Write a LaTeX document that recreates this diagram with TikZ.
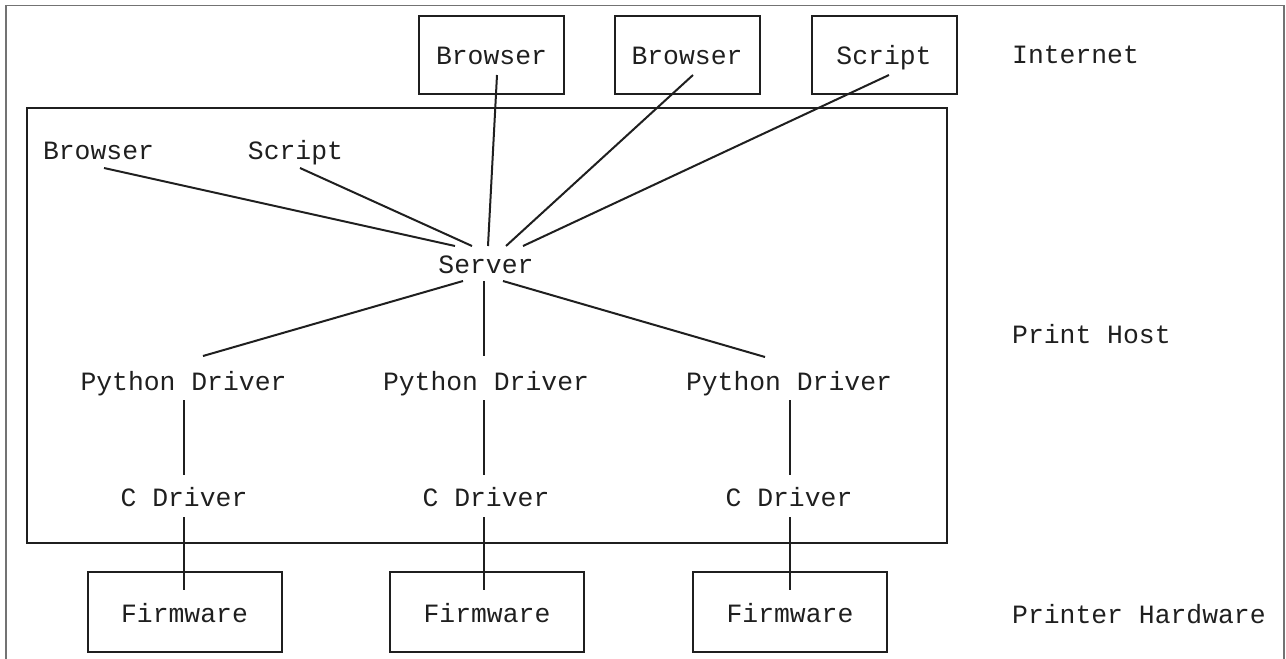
\documentclass[tikz,border=0pt]{standalone}
\usepackage{fontspec}
\setmainfont{Liberation Mono}
\begin{document}
\begin{tikzpicture}[x=1pt,y=-1pt,
  lbl/.style={anchor=base, inner sep=0pt, font=\fontsize{26.4}{30}\selectfont, text=black!88},
  sidelbl/.style={lbl, anchor=base west},
  boxed/.style={draw=black!88, line width=2pt, inner sep=0pt},
  topbox/.style={boxed, minimum width=145pt, minimum height=78pt},
  fwbox/.style={boxed, minimum width=194pt, minimum height=80pt},
  conn/.style={draw=black!88, line width=2pt},
  frame/.style={draw=black!55, line width=1.6pt}]
\useasboundingbox (0,0) rectangle (1286,659);
\draw[frame] (6,659) -- (6,5.5) -- (1284,5.5) -- (1284,659);

% boxes
\node[boxed, minimum width=920pt, minimum height=435pt] (host) at (487,325.5) {};
\node[topbox] (bx1) at (491.5,55) {};
\node[topbox] (bx2) at (687,55) {};
\node[topbox] (bx3) at (884,55) {};
\node[fwbox] (fb1) at (184.5,612) {};
\node[fwbox] (fb2) at (487,612) {};
\node[fwbox] (fb3) at (790,612) {};

% texts
\node[lbl] (ib1) at (491.5,64) {Browser};
\node[lbl] (ib2) at (687,64) {Browser};
\node[lbl] (isc) at (884,64) {Script};
\node[lbl] (hb) at (98.5,159) {Browser};
\node[lbl] (hs) at (295.5,159) {Script};
\node[lbl] (srv) at (486,273) {Server};
\node[lbl] (py1) at (183.5,390) {Python Driver};
\node[lbl] (py2) at (486,390) {Python Driver};
\node[lbl] (py3) at (789,390) {Python Driver};
\node[lbl] (c1) at (184,506) {C Driver};
\node[lbl] (c2) at (486,506) {C Driver};
\node[lbl] (c3) at (789,506) {C Driver};
\node[lbl] (fw1) at (184.5,622) {Firmware};
\node[lbl] (fw2) at (487,622) {Firmware};
\node[lbl] (fw3) at (790,622) {Firmware};
\node[sidelbl] (net) at (1012,63) {Internet};
\node[sidelbl] (ph) at (1012,343) {Print Host};
\node[sidelbl] (hw) at (1012,623) {Printer Hardware};

% connectors
\draw[conn] ([shift={(5.5,9)}]hb.base) -- ([shift={(-31,-27)}]srv.base);
\draw[conn] ([shift={(4.5,9)}]hs.base) -- ([shift={(-14,-27)}]srv.base);
\draw[conn] ([shift={(5.5,11)}]ib1.base) -- ([shift={(2,-27)}]srv.base);
\draw[conn] ([shift={(6,11)}]ib2.base) -- ([shift={(20,-27)}]srv.base);
\draw[conn] ([shift={(5,11)}]isc.base) -- ([shift={(37,-27)}]srv.base);
\draw[conn] ([shift={(-23,8)}]srv.base) -- ([shift={(19.5,-34)}]py1.base);
\draw[conn] ([shift={(-2,8)}]srv.base) -- ([shift={(-2,-34)}]py2.base);
\draw[conn] ([shift={(17,8)}]srv.base) -- ([shift={(-24,-33)}]py3.base);
\draw[conn] ([shift={(0.5,10)}]py1.base) -- ([shift={(0,-31)}]c1.base);
\draw[conn] ([shift={(-2,10)}]py2.base) -- ([shift={(-2,-31)}]c2.base);
\draw[conn] ([shift={(1,10)}]py3.base) -- ([shift={(1,-31)}]c3.base);
\draw[conn] ([shift={(0,11)}]c1.base) -- ([shift={(-0.5,-32)}]fw1.base);
\draw[conn] ([shift={(-2,11)}]c2.base) -- ([shift={(-3,-32)}]fw2.base);
\draw[conn] ([shift={(1,11)}]c3.base) -- ([shift={(0,-32)}]fw3.base);
\end{tikzpicture}
\end{document}
